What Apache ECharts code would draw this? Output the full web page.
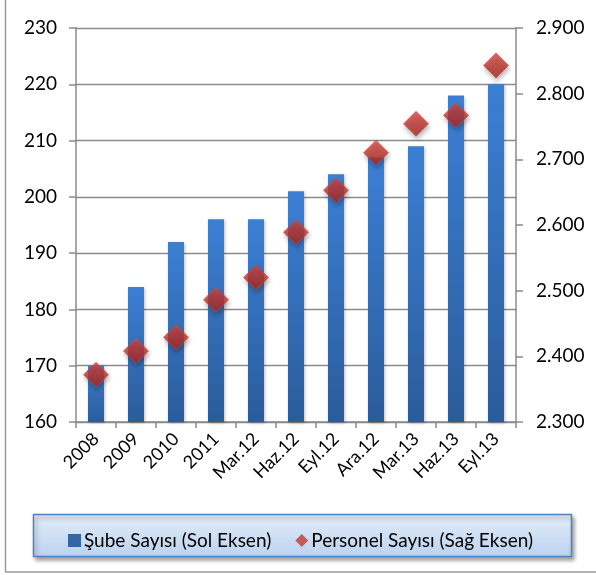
<!DOCTYPE html>
<html>
<head>
<meta charset="utf-8">
<script src="https://cdn.jsdelivr.net/npm/echarts@6/dist/echarts.min.js"></script>
<style>
  html, body { margin: 0; padding: 0; background: #fff; }
  #chart { width: 596px; height: 575px; }
</style>
</head>
<body>
<div id="chart"></div>
<script>
// dönemler
const categories = ['2008', '2009', '2010', '2011', 'Mar.12', 'Haz.12', 'Eyl.12', 'Ara.12', 'Mar.13', 'Haz.13', 'Eyl.13'];
// şube sayısı (sol eksen)
const subeSayisi = [170, 184, 192, 196, 196, 201, 204, 207, 209, 218, 220];
// personel sayısı (sağ eksen)
const personelSayisi = [2372, 2408, 2429, 2486, 2520, 2589, 2653, 2710, 2754, 2767, 2843];

const leftTicks = { min: 160, max: 230, interval: 10 };
const rightTicks = { min: 2300, max: 2900, interval: 100 };

const fontName = 'Lato';
const axisGray = '#8a8a8a';

const chart = echarts.init(document.getElementById('chart'));

const option = {
  animation: false,
  textStyle: { fontFamily: fontName },
  grid: { left: 76, right: 80, top: 28, bottom: 153 },
  graphic: [
    // çerçeve (sol ve alt)
    { type: 'line', shape: { x1: 5.5, y1: 0, x2: 5.5, y2: 572 }, style: { stroke: '#9a9a9a', lineWidth: 1.5 } },
    { type: 'line', shape: { x1: 5, y1: 572, x2: 596, y2: 572 }, style: { stroke: '#9a9a9a', lineWidth: 1.5 } },
    // lejant kutusu
    {
      type: 'rect', z: 1,
      shape: { x: 33.5, y: 514.5, width: 538, height: 42 },
      style: {
        fill: new echarts.graphic.LinearGradient(0, 0, 0, 1, [
          { offset: 0, color: '#e3edf9' },
          { offset: 1, color: '#bcd2ef' }
        ]),
        stroke: '#4f81bd', lineWidth: 1.5,
        shadowBlur: 4, shadowOffsetX: 2, shadowOffsetY: 3, shadowColor: 'rgba(0,0,0,0.35)'
      }
    }
  ],
  legend: {
    z: 10,
    left: 63, top: 526,
    itemGap: 24,
    itemWidth: 13, itemHeight: 13,
    itemStyle: { borderWidth: 0 },
    textStyle: { fontSize: 19, color: '#000', fontFamily: fontName, padding: [0, 0, 0, -2] },
    data: [
      { name: 'Şube Sayısı (Sol Eksen)', icon: 'rect', itemStyle: { color: '#3465a8' } },
      { name: 'Personel Sayısı (Sağ Eksen)', icon: 'diamond', itemStyle: { color: '#c0392f' } }
    ]
  },
  xAxis: {
    type: 'category',
    data: categories,
    boundaryGap: true,
    axisLine: { lineStyle: { color: axisGray, width: 1.5 } },
    axisTick: { show: true, alignWithLabel: false, length: 6, lineStyle: { color: axisGray, width: 1.5 } },
    axisLabel: { rotate: 45, fontSize: 18, color: '#000', margin: 14, interval: 0 }
  },
  yAxis: [
    {
      type: 'value',
      min: leftTicks.min, max: leftTicks.max, interval: leftTicks.interval,
      axisLine: { show: true, lineStyle: { color: axisGray, width: 1.5 } },
      axisTick: { show: true, length: 7, lineStyle: { color: axisGray, width: 1.5 } },
      splitLine: { show: true, lineStyle: { color: axisGray, width: 1.3 } },
      axisLabel: { fontSize: 19, color: '#000', margin: 19 }
    },
    {
      type: 'value',
      min: rightTicks.min, max: rightTicks.max, interval: rightTicks.interval,
      axisLine: { show: true, lineStyle: { color: axisGray, width: 1.5 } },
      axisTick: { show: true, length: 7, lineStyle: { color: axisGray, width: 1.5 } },
      splitLine: { show: false },
      axisLabel: {
        fontSize: 19, color: '#000', margin: 20,
        formatter: v => (v / 1000).toFixed(3)
      }
    }
  ],
  series: [
    {
      name: 'Şube Sayısı (Sol Eksen)',
      type: 'bar',
      yAxisIndex: 0,
      barWidth: 16,
      data: subeSayisi,
      itemStyle: {
        color: new echarts.graphic.LinearGradient(0, 0, 0, 1, [
          { offset: 0, color: '#3b7fd4' },
          { offset: 1, color: '#2b5c9a' }
        ]),
        shadowBlur: 3, shadowOffsetX: 1, shadowOffsetY: 1, shadowColor: 'rgba(0,0,0,0.25)'
      },
      z: 2
    },
    {
      name: 'Personel Sayısı (Sağ Eksen)',
      type: 'scatter',
      yAxisIndex: 1,
      symbol: 'diamond',
      symbolSize: [25, 25],
      data: personelSayisi,
      itemStyle: {
        color: new echarts.graphic.LinearGradient(0, 0, 0, 1, [
          { offset: 0, color: '#d9443c' },
          { offset: 1, color: '#a82520' }
        ]),
        borderColor: '#c9504a', borderWidth: 0.8,
        shadowBlur: 5, shadowOffsetX: 1, shadowOffsetY: 3, shadowColor: 'rgba(0,0,0,0.35)'
      },
      z: 5
    }
  ]
};

chart.setOption(option);
</script>
</body>
</html>
